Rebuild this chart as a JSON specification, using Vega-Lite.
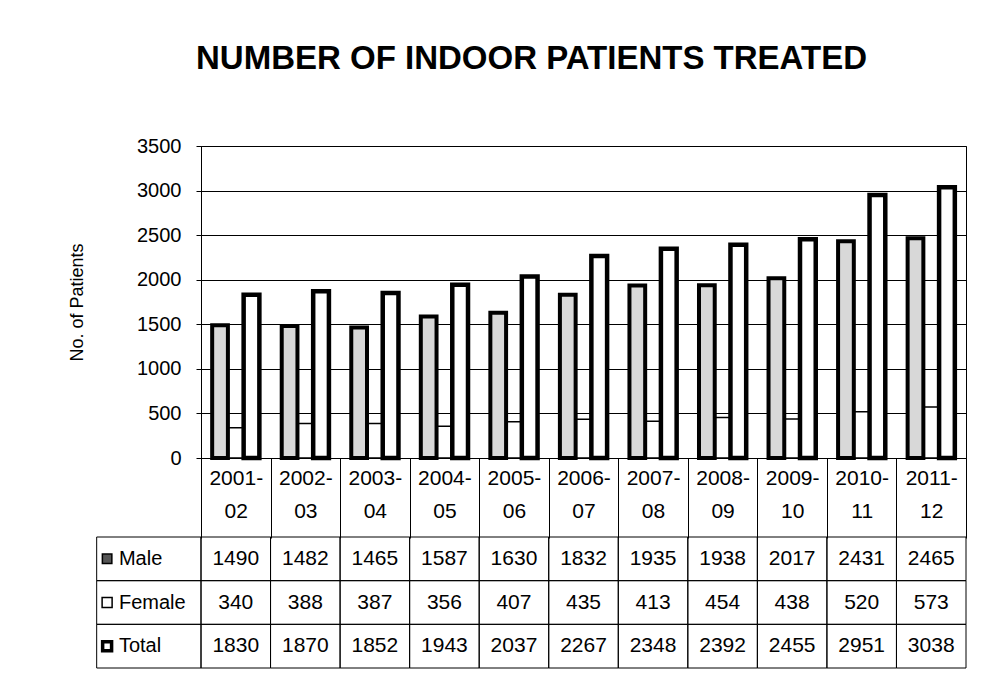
{
  "$schema": "https://vega.github.io/schema/vega-lite/v6.json",
  "width": 765,
  "height": 312,
  "autosize": {"type": "pad"},
  "padding": {"left": 68, "top": 43, "right": 10, "bottom": 5},
  "background": "white",
  "config": {
    "font": "Liberation Sans",
    "view": {"stroke": "black", "strokeWidth": 1},
    "axis": {"labelFont": "Liberation Sans", "titleFont": "Liberation Sans", "labelColor": "black", "titleColor": "black"}
  },
  "title": {
    "text": "NUMBER OF INDOOR PATIENTS TREATED",
    "fontSize": 33,
    "fontWeight": "bold",
    "font": "Liberation Sans",
    "color": "black",
    "anchor": "middle",
    "frame": "bounds",
    "dx": 14,
    "offset": 60
  },
  "datasets": {
    "d": [
      {"period": "2001-02", "series": "Male", "value": 1490},
      {"period": "2001-02", "series": "Female", "value": 340},
      {"period": "2001-02", "series": "Total", "value": 1830},
      {"period": "2002-03", "series": "Male", "value": 1482},
      {"period": "2002-03", "series": "Female", "value": 388},
      {"period": "2002-03", "series": "Total", "value": 1870},
      {"period": "2003-04", "series": "Male", "value": 1465},
      {"period": "2003-04", "series": "Female", "value": 387},
      {"period": "2003-04", "series": "Total", "value": 1852},
      {"period": "2004-05", "series": "Male", "value": 1587},
      {"period": "2004-05", "series": "Female", "value": 356},
      {"period": "2004-05", "series": "Total", "value": 1943},
      {"period": "2005-06", "series": "Male", "value": 1630},
      {"period": "2005-06", "series": "Female", "value": 407},
      {"period": "2005-06", "series": "Total", "value": 2037},
      {"period": "2006-07", "series": "Male", "value": 1832},
      {"period": "2006-07", "series": "Female", "value": 435},
      {"period": "2006-07", "series": "Total", "value": 2267},
      {"period": "2007-08", "series": "Male", "value": 1935},
      {"period": "2007-08", "series": "Female", "value": 413},
      {"period": "2007-08", "series": "Total", "value": 2348},
      {"period": "2008-09", "series": "Male", "value": 1938},
      {"period": "2008-09", "series": "Female", "value": 454},
      {"period": "2008-09", "series": "Total", "value": 2392},
      {"period": "2009-10", "series": "Male", "value": 2017},
      {"period": "2009-10", "series": "Female", "value": 438},
      {"period": "2009-10", "series": "Total", "value": 2455},
      {"period": "2010-11", "series": "Male", "value": 2431},
      {"period": "2010-11", "series": "Female", "value": 520},
      {"period": "2010-11", "series": "Total", "value": 2951},
      {"period": "2011-12", "series": "Male", "value": 2465},
      {"period": "2011-12", "series": "Female", "value": 573},
      {"period": "2011-12", "series": "Total", "value": 3038}
    ],
    "s": [
      {"series": "Male"},
      {"series": "Female"},
      {"series": "Total"}
    ]
  },
  "layer": [
    {
      "data": {"name": "d"},
      "encoding": {
        "x": {
          "field": "period",
          "type": "nominal",
          "sort": null,
          "scale": {"paddingInner": 0, "paddingOuter": 0},
          "axis": {
            "title": null,
            "labelAngle": 0,
            "labelFontSize": 21,
            "labelLineHeight": 33,
            "labelExpr": "[slice(datum.label,0,5), slice(datum.label,5)]",
            "labelPadding": -71,
            "tickBand": "extent",
            "tickSize": 80,
            "tickColor": "black",
            "domainColor": "black",
            "labelBaseline": "top"
          }
        },
        "y": {
          "field": "value",
          "type": "quantitative",
          "scale": {"domain": [0, 3500], "nice": false},
          "axis": {
            "title": "No. of Patients",
            "titleFontSize": 18,
            "titleFontWeight": "normal",
            "titlePadding": 50,
            "format": "d",
            "values": [0, 500, 1000, 1500, 2000, 2500, 3000, 3500],
            "labelFontSize": 20,
            "labelPadding": 15,
            "tickSize": 5,
            "tickColor": "black",
            "domainColor": "black",
            "gridColor": "black",
            "gridOpacity": 1,
            "grid": true
          }
        },
        "xOffset": {
          "field": "series",
          "type": "nominal",
          "scale": {"domain": ["Male", "Female", "Total"], "paddingInner": 0, "paddingOuter": 0.71}
        }
      },
      "layer": [
        {
          "transform": [{"filter": "datum.series === 'Female'"}],
          "mark": {"type": "bar", "fill": "white", "stroke": "black", "strokeWidth": 1.5}
        },
        {
          "transform": [{"filter": "datum.series === 'Male'"}],
          "mark": {"type": "bar", "fill": "#d8d8d8", "stroke": "black", "strokeWidth": 4}
        },
        {
          "transform": [{"filter": "datum.series === 'Total'"}],
          "mark": {"type": "bar", "fill": "white", "stroke": "black", "strokeWidth": 4.5}
        }
      ]
    },
    {
      "encoding": {
        "y": {
          "field": "series",
          "type": "nominal",
          "sort": null,
          "scale": {"domain": ["Male", "Female", "Total"], "range": [391, 522], "paddingInner": 0, "paddingOuter": 0},
          "axis": null
        }
      },
      "layer": [
        {
          "data": {"name": "d"},
          "mark": {"type": "rect", "fill": "white", "fillOpacity": 0, "stroke": "black", "strokeWidth": 1},
          "encoding": {
            "x": {
              "field": "period",
              "type": "nominal",
              "sort": null,
              "scale": {"domain": ["L0", "L1", "2001-02", "2002-03", "2003-04", "2004-05", "2005-06", "2006-07", "2007-08", "2008-09", "2009-10", "2010-11", "2011-12"], "range": [-139.09, 765], "paddingInner": 0, "paddingOuter": 0},
              "axis": null
            }
          }
        },
        {
          "data": {"name": "d"},
          "mark": {"type": "text", "fontSize": 21, "color": "black", "align": "center", "baseline": "middle"},
          "encoding": {
            "x": {"field": "period", "type": "nominal", "sort": null, "axis": null},
            "text": {"field": "value", "type": "quantitative"}
          }
        },
        {
          "data": {"name": "s"},
          "mark": {"type": "rect", "fill": "white", "fillOpacity": 0, "stroke": "black", "strokeWidth": 1},
          "encoding": {
            "x": {"datum": "L0", "type": "nominal", "bandPosition": 0.5, "axis": null},
            "x2": {"datum": "L1", "bandPosition": 1}
          }
        },
        {
          "data": {"name": "s"},
          "transform": [{"filter": "datum.series === 'Male'"}],
          "mark": {"type": "point", "shape": "square", "filled": true, "fill": "#555555", "stroke": "black", "strokeWidth": 1.5, "size": 90, "opacity": 1},
          "encoding": {"x": {"datum": "L0", "type": "nominal", "bandPosition": 0.65, "axis": null}}
        },
        {
          "data": {"name": "s"},
          "transform": [{"filter": "datum.series === 'Female'"}],
          "mark": {"type": "point", "shape": "square", "filled": true, "fill": "white", "stroke": "black", "strokeWidth": 1.5, "size": 100, "opacity": 1},
          "encoding": {"x": {"datum": "L0", "type": "nominal", "bandPosition": 0.65, "axis": null}}
        },
        {
          "data": {"name": "s"},
          "transform": [{"filter": "datum.series === 'Total'"}],
          "mark": {"type": "point", "shape": "square", "filled": true, "fill": "white", "stroke": "black", "strokeWidth": 3.5, "size": 80, "opacity": 1},
          "encoding": {"x": {"datum": "L0", "type": "nominal", "bandPosition": 0.65, "axis": null}}
        },
        {
          "data": {"name": "s"},
          "mark": {"type": "text", "fontSize": 20, "color": "black", "align": "left", "baseline": "middle"},
          "encoding": {
            "x": {"datum": "L0", "type": "nominal", "bandPosition": 0.82, "axis": null},
            "text": {"field": "series", "type": "nominal"}
          }
        }
      ]
    }
  ],
  "resolve": {"scale": {"x": "independent", "y": "independent"}}
}
